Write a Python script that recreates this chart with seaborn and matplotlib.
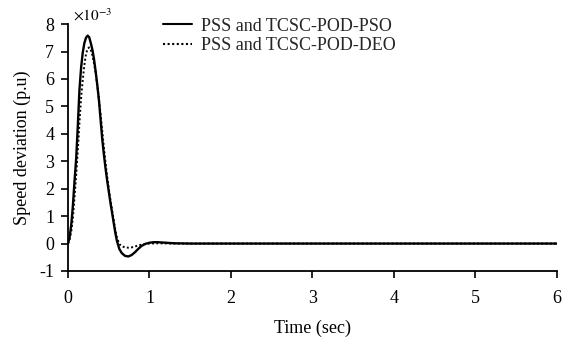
import numpy as np
import pandas as pd
import matplotlib
matplotlib.use("Agg")
import matplotlib.pyplot as plt
import seaborn as sns

# Time (s) and speed deviation (x1e-3 p.u.)
t_pso = [0.00, 0.02, 0.04, 0.06, 0.08, 0.10, 0.12, 0.14, 0.16, 0.18, 0.20, 0.22,
         0.24, 0.26, 0.28, 0.30, 0.32, 0.34, 0.36, 0.38, 0.40, 0.42, 0.44, 0.46,
         0.48, 0.50, 0.52, 0.55, 0.58, 0.60, 0.63, 0.66, 0.70, 0.74, 0.78, 0.82,
         0.86, 0.90, 0.95, 1.00, 1.05, 1.10, 1.15, 1.20, 1.30, 1.50, 2.0, 3.0,
         4.0, 5.0, 6.0]
pso = [0.0, 0.25, 0.7, 1.4, 2.3, 3.1, 4.3, 5.6, 6.4, 6.95, 7.3, 7.5,
       7.58, 7.52, 7.3, 7.05, 6.7, 6.25, 5.75, 5.2, 4.5, 3.8, 3.25, 2.75,
       2.3, 1.9, 1.5, 0.95, 0.4, 0.1, -0.2, -0.35, -0.45, -0.47, -0.42, -0.32,
       -0.2, -0.09, -0.01, 0.03, 0.05, 0.05, 0.04, 0.03, 0.01, 0.0, 0.0, 0.0,
       0.0, 0.0, 0.0]

t_deo = [0.00, 0.02, 0.04, 0.06, 0.08, 0.10, 0.12, 0.14, 0.16, 0.18, 0.20, 0.22,
         0.24, 0.26, 0.28, 0.30, 0.32, 0.34, 0.36, 0.38, 0.40, 0.42, 0.44, 0.46,
         0.48, 0.50, 0.52, 0.55, 0.58, 0.60, 0.63, 0.66, 0.70, 0.74, 0.78, 0.82,
         0.86, 0.90, 0.95, 1.00, 1.10, 1.30, 1.50, 2.0, 3.0, 4.0, 5.0, 6.0]
deo = [0.0, 0.15, 0.45, 0.95, 1.7, 2.5, 3.4, 4.4, 5.3, 5.95, 6.5, 6.9,
       7.1, 7.15, 7.05, 6.85, 6.55, 6.2, 5.75, 5.25, 4.7, 4.1, 3.5, 2.95,
       2.45, 2.0, 1.6, 1.05, 0.5, 0.22, -0.02, -0.1, -0.14, -0.15, -0.14, -0.11,
       -0.07, -0.04, -0.01, 0.0, 0.01, 0.0, 0.0, 0.0, 0.0, 0.0, 0.0, 0.0]

labels = ["PSS and TCSC-POD-PSO", "PSS and TCSC-POD-DEO"]
x_ticks = [0, 1, 2, 3, 4, 5, 6]
y_ticks = [-1, 0, 1, 2, 3, 4, 5, 6, 7, 8]

df = pd.concat([
    pd.DataFrame({"t": t_pso, "v": pso, "series": labels[0]}),
    pd.DataFrame({"t": t_deo, "v": deo, "series": labels[1]}),
])

sns.set_theme(style="white")
plt.rcParams["font.family"] = ["Liberation Serif", "DejaVu Serif"]
plt.rcParams["mathtext.fontset"] = "stix"
plt.rcParams["axes.unicode_minus"] = False

fig = plt.figure(figsize=(5.67, 3.39), dpi=100)
ax = fig.add_axes([0.12, 0.2006, 0.862, 0.7284])

sns.lineplot(data=df, x="t", y="v", hue="series", style="series",
             palette=["black", "black"], dashes=[(None, None), (1, 1.2)],
             sort=False, estimator=None, ax=ax)
for ln, lw in zip(ax.lines[:2], [1.7, 1.4]):
    ln.set_linewidth(lw)

ax.set_xlim(0, 6)
ax.set_ylim(-1, 8)
ax.set_xticks(x_ticks)
ax.set_yticks(y_ticks)
ax.tick_params(axis="both", direction="out", length=5, width=1.2,
               labelsize=13, colors="black", left=True, bottom=True)
ax.tick_params(axis="x", pad=9)
ax.tick_params(axis="y", pad=5)
for s in ["top", "right"]:
    ax.spines[s].set_visible(False)
for s in ["left", "bottom"]:
    ax.spines[s].set_color("black")
    ax.spines[s].set_linewidth(1.3)

ax.set_xlabel("Time (sec)", fontsize=13, color="black", labelpad=9)
ax.set_ylabel("Speed deviation (p.u)", fontsize=13, color="black", labelpad=6)
ax.text(0.01, 1.0, r"$\times10^{-3}$", transform=ax.transAxes,
        fontsize=11, ha="left", va="bottom", color="black")

leg = ax.legend(loc="upper left", bbox_to_anchor=(0.18, 1.055), frameon=False,
                fontsize=13, handlelength=1.6, handletextpad=0.5,
                labelspacing=0.15, borderaxespad=0)
for h in leg.get_lines():
    h.set_color("black")

fig.savefig("out.png", dpi=100)
